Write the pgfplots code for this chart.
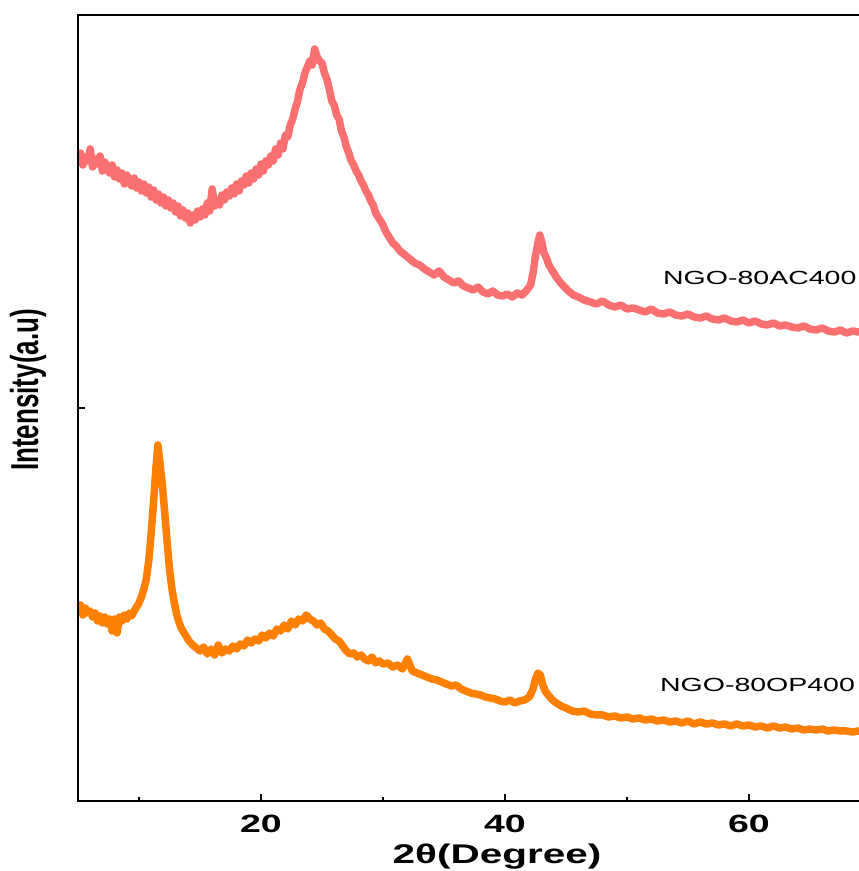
\documentclass[border=0pt]{standalone}
\usepackage{pgfplots}
\pgfplotsset{compat=1.18}
\usepackage{fontspec}
\setmainfont{Liberation Sans}
\definecolor{acred}{RGB}{250,112,112}
\definecolor{oporange}{RGB}{255,128,0}
\begin{document}
\begin{tikzpicture}[x=1pt,y=1pt]
\useasboundingbox (0,0) rectangle (859,871);
\begin{axis}[name=ax, at={(78pt,70pt)}, anchor=south west, scale only axis,
  width=781pt, height=786pt, xmin=5, xmax=69.02, ymin=0, ymax=786,
  axis line style={draw=none}, tick align=inside,
  xtick={20,40,60}, xticklabels={\scalebox{1.5}[1]{\fontsize{25}{28}\selectfont\bfseries 20},\scalebox{1.5}[1]{\fontsize{25}{28}\selectfont\bfseries 40},\scalebox{1.5}[1]{\fontsize{25}{28}\selectfont\bfseries 60}},
  minor xtick={10,30,50}, xtick pos=bottom, ytick pos=left,
  ytick={393}, yticklabels={},
  major tick length=7pt, minor tick length=4pt,
  tick style={line width=1.6pt, black},
  xticklabel style={inner sep=0pt, yshift=-14pt},
  clip mode=individual]
\addplot[color=acred, line width=7.5pt, line join=round] coordinates {
(5.0,639)(5.2,648)(5.4,636)(5.6,644)(5.8,640)(6.0,652)(6.2,634)(6.4,642)(6.6,637)(6.8,645)
(7.0,630)(7.2,639)(7.4,632)(7.6,628)(7.8,636)(8.0,624)(8.2,631)(8.4,622)(8.6,628)(8.8,617)
(9.0,626)(9.2,620)(9.4,615)(9.6,623)(9.8,613)(10.0,619)(10.2,610)(10.4,617)(10.6,608)(10.8,614)
(11.0,604)(11.2,611)(11.4,601)(11.6,607)(11.8,598)(12.0,604)(12.2,595)(12.4,601)(12.6,593)(12.8,598)
(13.0,589)(13.2,595)(13.4,585)(13.6,591)(13.8,583)(14.0,588)(14.2,578)(14.4,586)(14.6,581)(14.8,590)
(15.0,584)(15.2,592)(15.4,586)(15.6,598)(15.8,590)(16.0,612)(16.2,595)(16.4,600)(16.6,596)(16.8,606)
(17.0,601)(17.2,609)(17.4,605)(17.6,613)(17.8,607)(18.0,617)(18.2,610)(18.4,620)(18.6,616)(18.8,625)
(19.0,618)(19.2,628)(19.4,622)(19.6,632)(19.8,626)(20.0,637)(20.2,630)(20.4,640)(20.6,636)(20.8,645)
(21.0,640)(21.2,652)(21.4,646)(21.6,658)(21.8,652)(22.0,666)(22.2,664)(22.4,676)(22.6,682)(22.8,692)
(23.0,700)(23.2,712)(23.4,718)(23.6,728)(23.8,734)(24.0,740)(24.2,736)(24.4,752)(24.6,744)(24.8,740)
(25.0,738)(25.2,728)(25.4,722)(25.6,712)(25.8,700)(26.0,696)(26.2,686)(26.4,682)(26.6,670)(26.8,664)
(27.0,654)(27.2,648)(27.4,640)(27.6,636)(27.8,630)(28.0,626)(28.2,620)(28.4,616)(28.6,610)(28.8,606)
(29.0,600)(29.2,596)(29.4,588)(29.6,584)(29.8,580)(30.0,576)(30.2,570)(30.4,566)(30.6,562)(30.8,558)
(31.0,556)(31.4,550)(31.8,546)(32.2,542)(32.6,538)(33.0,536)(33.4,532)(33.8,529)(34.2,526)(34.6,530)
(35.0,524)(35.4,521)(35.8,518)(36.2,520)(36.6,515)(37.0,513)(37.4,511)(37.8,514)(38.2,509)(38.6,507)
(39.0,510)(39.4,506)(39.8,505)(40.2,507)(40.6,504)(41.0,508)(41.4,506)(41.8,511)(42.1,516)(42.3,528)
(42.5,545)(42.7,558)(42.85,566)(43.0,560)(43.2,548)(43.4,543)(43.6,536)(43.9,530)(44.2,524)(44.5,519)
(44.8,515)(45.2,510)(45.6,506)(46.0,504)(46.5,501)(47.0,499)(47.5,497)(48.0,500)(48.5,496)(49.0,494)
(49.5,496)(50.0,492)(50.5,493)(51.0,491)(51.5,489)(52.0,492)(52.5,488)(53.0,487)(53.5,489)(54.0,486)
(54.5,485)(55.0,487)(55.5,484)(56.0,483)(56.5,485)(57.0,482)(57.5,481)(58.0,483)(58.5,480)(59.0,479)
(59.5,481)(60.0,478)(60.5,480)(61.0,477)(61.5,476)(62.0,478)(62.5,475)(63.0,476)(63.5,474)(64.0,473)
(64.5,475)(65.0,472)(65.5,471)(66.0,473)(66.5,470)(67.0,469)(67.5,471)(68.0,468)(68.5,470)(69.0,469)(69.5,468)
};
\addplot[color=oporange, line width=7.5pt, line join=round] coordinates {
(5.0,191)(5.2,196)(5.4,186)(5.6,193)(5.8,188)(6.0,190)(6.2,184)(6.4,188)(6.6,180)(6.8,185)
(7.0,178)(7.2,184)(7.4,177)(7.6,182)(7.8,170)(8.0,182)(8.2,168)(8.4,184)(8.6,180)(8.8,186)
(9.0,182)(9.2,188)(9.4,185)(9.6,190)(9.8,194)(10.0,198)(10.2,204)(10.4,212)(10.6,222)(10.8,240)
(11.0,268)(11.2,300)(11.4,335)(11.55,356)(11.7,340)(11.9,318)(12.1,290)(12.3,260)(12.5,232)(12.7,212)
(12.9,198)(13.1,186)(13.3,178)(13.5,172)(13.8,166)(14.1,160)(14.4,156)(14.7,153)(15.0,150)(15.3,154)
(15.6,147)(15.9,152)(16.2,146)(16.5,156)(16.8,148)(17.1,152)(17.4,150)(17.7,155)(18.0,152)(18.3,157)
(18.6,155)(18.9,161)(19.2,158)(19.5,162)(19.8,160)(20.1,166)(20.4,163)(20.7,168)(21.0,165)(21.3,172)
(21.6,170)(21.9,176)(22.2,172)(22.5,180)(22.8,176)(23.1,182)(23.4,180)(23.7,186)(24.0,182)(24.3,180)
(24.6,176)(24.9,178)(25.2,172)(25.5,170)(25.8,166)(26.1,162)(26.4,160)(26.7,155)(27.0,150)(27.3,147)
(27.6,148)(27.9,144)(28.2,146)(28.5,142)(28.8,140)(29.1,144)(29.4,138)(29.7,140)(30.0,137)(30.4,138)
(30.8,134)(31.2,136)(31.6,132)(32.0,142)(32.4,130)(32.8,128)(33.2,126)(33.6,124)(34.0,122)(34.4,121)
(34.8,119)(35.2,117)(35.6,115)(36.0,116)(36.4,112)(36.8,110)(37.2,108)(37.6,107)(38.0,106)(38.4,104)
(38.8,103)(39.2,102)(39.6,100)(40.0,99)(40.4,101)(40.8,98)(41.2,100)(41.6,101)(42.0,104)(42.3,112)
(42.5,122)(42.7,128)(42.9,126)(43.1,116)(43.3,110)(43.6,105)(43.9,101)(44.2,98)(44.6,95)(45.0,93)
(45.5,90)(46.0,89)(46.5,90)(47.0,87)(47.5,86)(48.0,86)(48.5,84)(49.0,85)(49.5,83)(50.0,84)
(50.5,82)(51.0,83)(51.5,81)(52.0,82)(52.5,80)(53.0,81)(53.5,79)(54.0,80)(54.5,78)(55.0,80)
(55.5,77)(56.0,79)(56.5,77)(57.0,78)(57.5,76)(58.0,77)(58.5,75)(59.0,77)(59.5,75)(60.0,76)
(60.5,74)(61.0,75)(61.5,73)(62.0,75)(62.5,73)(63.0,74)(63.5,72)(64.0,73)(64.5,71)(65.0,72)
(65.5,71)(66.0,72)(66.5,70)(67.0,71)(67.5,70)(68.0,70)(68.5,69)(69.0,70)(69.5,69)
};
\node[anchor=base west, inner sep=0pt] at (axis cs:52.95,516) {\scalebox{1.5}[1]{\fontsize{19}{22}\selectfont NGO-80AC400}};
\node[anchor=base west, inner sep=0pt] at (axis cs:52.7,109) {\scalebox{1.5}[1]{\fontsize{19}{22}\selectfont NGO-80OP400}};
\end{axis}
\draw[line width=2pt, line cap=rect] (ax.north east) -- (ax.north west) -- (ax.south west) -- (ax.south east);
\node[rotate=90, inner sep=0pt] at (28,481) {\scalebox{1}[1.5]{\fontsize{26}{30}\selectfont\bfseries Intensity(a.u)}};
\node[anchor=base, inner sep=0pt] at (497,7) {\scalebox{1.5}[1]{\fontsize{27}{30}\selectfont\bfseries 2θ(Degree)}};
\end{tikzpicture}
\end{document}
